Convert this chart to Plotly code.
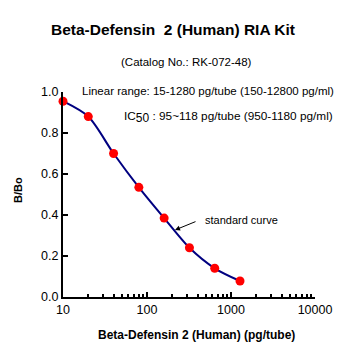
import plotly.graph_objects as go

conc = [10, 20, 40, 80, 160, 320, 640, 1280]
bbo = [0.955, 0.88, 0.70, 0.535, 0.385, 0.24, 0.14, 0.078]
x_ticks = [10, 100, 1000, 10000]
y_ticks = [0.0, 0.2, 0.4, 0.6, 0.8, 1.0]

FONT = "Liberation Sans, Arial, sans-serif"

fig = go.Figure()
fig.add_trace(go.Scatter(x=conc, y=bbo, mode="lines", line=dict(color="#000080", width=2, shape="spline", smoothing=0.8),
                         hoverinfo="skip", cliponaxis=False))
fig.add_trace(go.Scatter(x=conc, y=bbo, mode="markers", marker=dict(color="#ff0000", size=9),
                         cliponaxis=False))

fig.update_layout(
    width=350, height=350,
    margin=dict(l=63, r=35, t=92, b=53),
    paper_bgcolor="white", plot_bgcolor="white",
    showlegend=False,
    font=dict(family=FONT, color="black", size=12),
    title=dict(text="<b>Beta-Defensin  2 (Human) RIA Kit</b>", x=173/350, xanchor="center",
               y=1-30/350, yanchor="middle", yref="container", font=dict(size=15.5)),
)
fig.update_xaxes(type="log", range=[1, 4], showline=True, linecolor="black", linewidth=2,
                 tickvals=x_ticks, ticktext=[str(v) for v in x_ticks], ticks="inside", ticklen=5,
                 tickwidth=1.5, tickcolor="black", showgrid=False, zeroline=False,
                 minor=dict(ticks="inside", ticklen=3, tickcolor="black", tickwidth=1.5, showgrid=False,
                            tickvals=[m * 10**e for e in range(1, 4) for m in range(2, 10)]),
                 tickfont=dict(size=12.5))
fig.update_yaxes(range=[0, 1], showline=True, linecolor="black", linewidth=2,
                 tickvals=y_ticks, tickformat=".1f", ticks="inside", ticklen=5, tickwidth=1.5,
                 tickcolor="black", showgrid=False, zeroline=False, tickfont=dict(size=12.5))

anns = [
    dict(text="(Catalog No.: RK-072-48)", xref="paper", yref="paper", x=(186-63)/252, y=(297-62)/205,
         xanchor="center", yanchor="middle", showarrow=False, font=dict(size=11.5)),
    dict(text="Linear range: 15-1280 pg/tube (150-12800 pg/ml)", xref="paper", yref="paper",
         x=(80-63)/252, y=(297-91)/205, xanchor="left", yanchor="middle", showarrow=False, font=dict(size=11.5)),
    dict(text="IC<sub><span style='font-size:12px'>50</span></sub> : 95~118 pg/tube (950-1180 pg/ml)", xref="paper", yref="paper",
         x=(122-63)/252, y=(297-117)/205, xanchor="left", yanchor="middle", showarrow=False, font=dict(size=11.8)),
    dict(text="standard curve", xref="paper", yref="paper",
         x=(203-63)/252, y=(297-220)/205, xanchor="left", yanchor="middle", showarrow=False, font=dict(size=11)),
    dict(text="", xref="paper", yref="paper", x=(175-63)/252, y=(297-230)/205, showarrow=True,
         ax=22, ay=-9, arrowhead=2, arrowsize=1, arrowwidth=1, arrowcolor="black"),
    dict(text="<b>Beta-Defensin 2 (Human) (pg/tube)</b>", xref="paper", yref="paper",
         x=(196-63)/252, y=(297-335)/205, xanchor="center", yanchor="middle", showarrow=False, font=dict(size=12)),
    dict(text="<b>B/Bo</b>", xref="paper", yref="paper", x=(18-63)/252, y=(297-190)/205,
         xanchor="center", yanchor="middle", textangle=-90, showarrow=False, font=dict(size=11)),
]
fig.update_layout(annotations=anns)
fig.write_html("out.html")
